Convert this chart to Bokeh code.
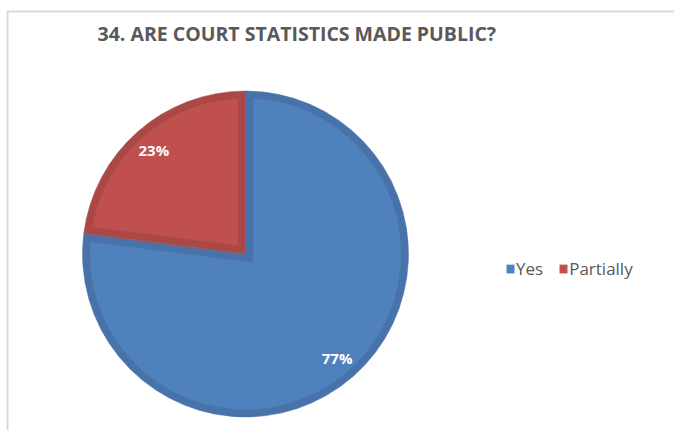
import math
from bokeh.plotting import figure
from bokeh.models import ColumnDataSource, Range1d, Legend, LegendItem
from bokeh.embed import file_html
from bokeh.resources import INLINE
from bokeh.core.properties import value

# ---- data ----
categories = ["Yes", "Partially"]
shares = [77, 23]
label_texts = ["77%", "23%"]
fill_colors = ["#4F81BD", "#C0504D"]
edge_colors = ["#4873AA", "#AA4845"]
title_text = "34. ARE COURT STATISTICS MADE PUBLIC?"

# ---- layout (pixel-like data space) ----
W, H = 674, 430
CX, CY, R = 245, 176.5, 163
BAND = 7.5   # inset border width of each slice

p = figure(width=W, height=H, output_backend="svg", toolbar_location=None,
           x_range=Range1d(0, W), y_range=Range1d(0, H), min_border=0)
p.axis.visible = False
p.grid.visible = False
p.outline_line_color = None
p.background_fill_color = "white"
p.border_fill_color = "white"

# chart border (top and left visible, like the cropped reference)
p.line(x=[7, 7, W], y=[0, 419, 419], line_color="#D9D9D9", line_width=2)

total = float(sum(shares))
starts, ends, lx, ly, inner_xs, inner_ys = [], [], [], [], [], []
cum = 0.0
rho = R - BAND
delta = math.asin(BAND / rho)
for s in shares:
    a0 = 90 - 360 * cum / total
    cum += s
    a1 = 90 - 360 * cum / total
    st, en = math.radians(a1), math.radians(a0)
    mid = (st + en) / 2
    half = (en - st) / 2
    starts.append(st)
    ends.append(en)
    lx.append(CX + 0.85 * R * math.cos(mid))
    ly.append(CY + 0.85 * R * math.sin(mid))
    # inner (lighter) region: slice inset by BAND on every side
    d = BAND / math.sin(half)
    px = [CX + d * math.cos(mid)]
    py = [CY + d * math.sin(mid)]
    n = 120
    for k in range(n + 1):
        t = st + delta + (en - st - 2 * delta) * k / n
        px.append(CX + rho * math.cos(t))
        py.append(CY + rho * math.sin(t))
    inner_xs.append(px)
    inner_ys.append(py)

src = ColumnDataSource(dict(start=starts, end=ends, fill=fill_colors, edge=edge_colors,
                            lx=lx, ly=ly, txt=label_texts, cat=categories,
                            ixs=inner_xs, iys=inner_ys))

p.wedge(x=CX, y=CY, radius=R, start_angle="start", end_angle="end",
        fill_color="edge", line_color="edge", line_width=0.5, source=src)
inner = p.patches(xs="ixs", ys="iys", fill_color="fill", line_color=None, source=src)

p.text(x="lx", y="ly", text="txt", source=src, text_color="white",
       text_font=value("Open Sans"), text_font_style="bold", text_font_size="15px",
       text_align="center", text_baseline="middle")

# title
p.text(x=[97], y=[397], text=[title_text], text_color="#595959",
       text_font=value("Open Sans"), text_font_style="bold", text_font_size="19.5px",
       text_align="left", text_baseline="middle")

# legend
items = [LegendItem(label=c, renderers=[inner], index=i) for i, c in enumerate(categories)]
legend = Legend(items=items, orientation="horizontal", location=(505, 150),
                glyph_width=10, glyph_height=11, label_standoff=1, spacing=15,
                padding=0, margin=0, border_line_color=None, background_fill_alpha=0,
                label_text_font="Open Sans", label_text_font_size="17px",
                label_text_color="#595959")
p.add_layout(legend)

open("out.html", "w").write(file_html(p, INLINE))
